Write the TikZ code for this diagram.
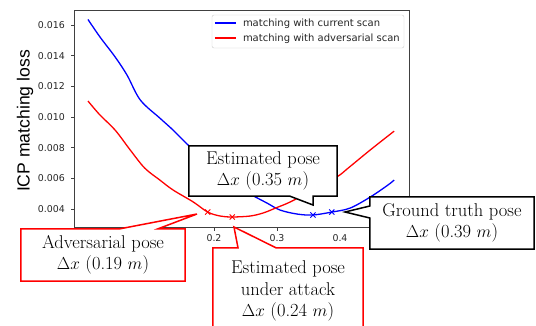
\documentclass[tikz,border=0pt]{standalone}
\usepackage{fontspec}
\usetikzlibrary{calc}
\newfontfamily\plotfont{DejaVu Sans}
\newfontfamily\axisfont{Liberation Sans}
\pgfdeclarelayer{callout}
\pgfdeclarelayer{front}
\pgfsetlayers{main,callout,front}
\newcommand{\lossmark}[2]{\draw[#1, line width=0.9pt] (#2) +(-2.6pt,-2.6pt) -- +(2.6pt,2.6pt) +(-2.6pt,2.6pt) -- +(2.6pt,-2.6pt);}

\begin{document}
\begin{tikzpicture}[x=1pt, y=-1pt,
  spine/.style={draw=black!75, line width=0.8pt},
  ticklbl/.style={font=\plotfont\fontsize{9.4}{10}\selectfont, inner sep=0pt, text=black!85},
  lgtext/.style={anchor=west, inner sep=0pt, text=black!85, font=\plotfont\fontsize{10}{12}\selectfont},
  loss/.style={line width=1.3pt, line join=round},
  pose/.style={align=center, inner sep=0pt, font=\fontsize{18.5}{21.5}\selectfont},
  blackcall/.style={draw=black, line width=1.5pt, fill=white, line join=miter},
  redcall/.style={blackcall, draw=red}]
\useasboundingbox (0,0) rectangle (536,325);

% loss curves, x in m, loss in 1e-3
\begin{scope}[shift={(88,270.33)}, x=630pt, y=15.333pt]
\draw[spine] (-0.0222,2.826) rectangle (0.5095,16.978);
\foreach \v in {0,0.1,...,0.4}
  \draw[spine] (\v,2.826) -- ++(0,-3.5pt);
\foreach \v in {0.2,0.3,0.4}
  \node[ticklbl, anchor=north, yshift=-7pt] at (\v,2.826) {\v};
\foreach \t/\lab in {4/0.004,6/0.006,8/0.008,10/0.010,12/0.012,14/0.014,16/0.016} {
  \draw[spine] (-0.0222,\t) -- ++(-3.5pt,0);
  \node[ticklbl, anchor=east, xshift=-9pt] at (-0.0222,\t) {\lab};
}
\draw[loss, blue] plot[smooth, tension=0.55] coordinates {(0,16.36) (0.019,15.22) (0.043,13.92) (0.062,12.73) (0.083,11.11) (0.114,9.93) (0.135,9.15) (0.159,8.17) (0.186,7.19) (0.217,6.08) (0.241,5.37) (0.260,4.91) (0.284,4.39) (0.305,3.93) (0.332,3.67) (0.357,3.61) (0.387,3.80) (0.416,4.06) (0.448,4.78) (0.476,5.56) (0.486,5.89)};
\draw[loss, red] plot[smooth, tension=0.55] coordinates {(0,11.04) (0.019,10.13) (0.043,9.15) (0.067,7.85) (0.090,6.67) (0.114,5.89) (0.135,5.24) (0.167,4.46) (0.190,3.80) (0.210,3.54) (0.229,3.48) (0.257,3.54) (0.278,3.74) (0.300,4.10) (0.321,4.46) (0.357,5.24) (0.395,6.09) (0.413,6.67) (0.448,7.85) (0.486,9.08)};
\coordinate (m est) at (0.357,3.61);
\coordinate (m gt) at (0.387,3.80);
\coordinate (m adv) at (0.190,3.80);
\coordinate (m att) at (0.229,3.48);
\end{scope}
\lossmark{blue}{m est}
\lossmark{blue}{m gt}
\lossmark{red}{m adv}
\lossmark{red}{m att}

\node[rotate=90, inner sep=0pt, font=\axisfont\fontsize{17.6}{20}\selectfont] (ylab) at (25,121) {ICP matching loss};

% legend
\node[draw=black!20, fill=white, rounded corners=2pt, minimum width=192pt, minimum height=33pt, inner sep=0pt] (legend) at (308,31.5) {};
\coordinate (lg1) at ($(legend.north west)+(3pt,-8.5pt)$);
\coordinate (lg2) at ($(legend.north west)+(3pt,-23.5pt)$);
\draw[line width=2pt, draw=blue] (lg1) -- ++(21pt,0);
\draw[line width=2pt, draw=red] (lg2) -- ++(21pt,0);
\node[lgtext] (lg cur) at ($(lg1)+(28pt,-0.6pt)$) {matching with current scan};
\node[lgtext] (lg adv) at ($(lg2)+(28pt,-0.6pt)$) {matching with adversarial scan};

% callouts
\coordinate (est tip) at (313,205);
\coordinate (gt tip) at (345,212);
\coordinate (adv tip) at (197,214);
\coordinate (att tip) at (234,227);
\begin{pgfonlayer}{front}
\node[pose, minimum width=148pt, minimum height=50pt] (est) at (263,171) {Estimated pose\\$\Delta x$ (0.35 $m$)};
\node[pose, minimum width=164pt, minimum height=52pt] (gt) at (452,223) {Ground truth pose\\$\Delta x$ (0.39 $m$)};
\node[pose, minimum width=164pt, minimum height=52pt] (adv) at (103,255) {Adversarial pose\\$\Delta x$ (0.19 $m$)};
\node[pose, minimum width=150pt, minimum height=86pt] (att) at (288,291) {Estimated pose\\under attack\\$\Delta x$ (0.24 $m$)};
\end{pgfonlayer}
\begin{pgfonlayer}{callout}
\filldraw[blackcall] (est.south west) -- (est.north west) -- (est.north east) -- (est.south east)
  -- (est.south -| est tip) -- (est tip) -- ($(est.south -| est tip)+(-23pt,0)$) -- cycle;
\filldraw[blackcall] (gt.north west) -- (gt.north east) -- (gt.south east) -- (gt.south west)
  -- ($(gt.west)+(0,5pt)$) -- (gt tip) -- ($(gt.west)+(0,17pt)$) -- cycle;
\filldraw[redcall] (adv.north west) -- ($(adv.north)+(17pt,0)$) -- (adv tip) -- ($(adv.north)+(55pt,0)$)
  -- (adv.north east) -- (adv.south east) -- (adv.south west) -- cycle;
\filldraw[redcall] (att.north west) -- ($(att.north)+(-50pt,0)$) -- (att tip) -- ($(att.north)+(-12pt,0)$)
  -- (att.north east) -- (att.south east) -- (att.south west) -- cycle;
\end{pgfonlayer}
\end{tikzpicture}
\end{document}
